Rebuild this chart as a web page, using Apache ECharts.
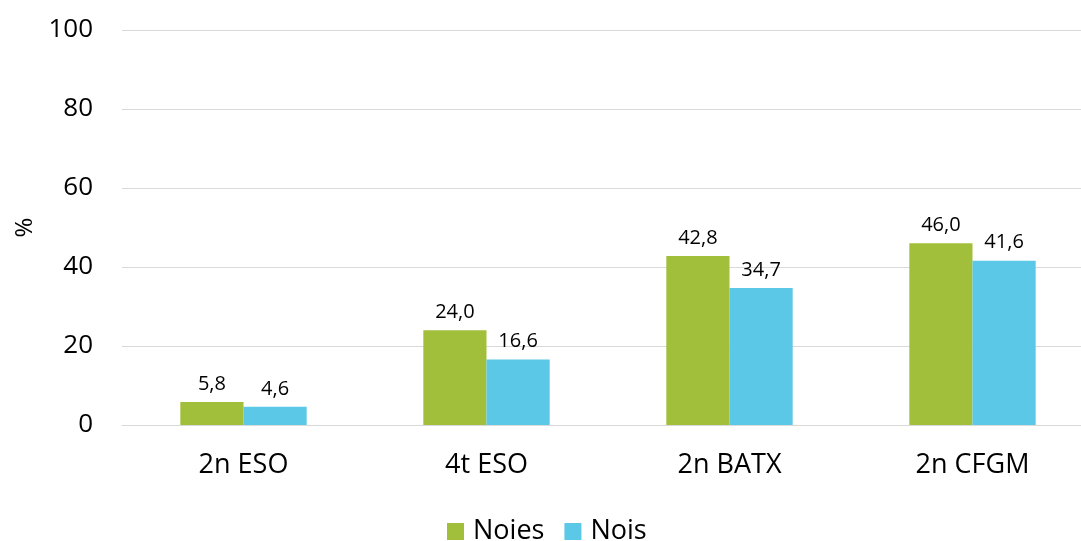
<!DOCTYPE html>
<html>
<head>
<meta charset="utf-8">
<script src="https://cdn.jsdelivr.net/npm/echarts@6/dist/echarts.min.js"></script>
<style>
  html, body { margin: 0; padding: 0; background: #fff; }
  #chart { width: 1081px; height: 541px; }
</style>
</head>
<body>
<div id="chart"></div>
<script>
var categories = ['2n ESO', '4t ESO', '2n BATX', '2n CFGM'];
var noies = [5.8, 24.0, 42.8, 46.0];
var nois = [4.6, 16.6, 34.7, 41.6];

var myChart = echarts.init(document.getElementById('chart'));

var fontFam = '"Open Sans", sans-serif';

function fmt(p) {
    return p.value.toFixed(1).replace('.', ',');
}

var option = {
    animation: false,
    textStyle: { fontFamily: fontFam },
    grid: { left: 122, width: 972, top: 30, bottom: 116, outerBoundsMode: 'none', containLabel: false },
    legend: {
        left: 442,
        bottom: -9,
        icon: 'rect',
        itemWidth: 17,
        itemHeight: 17,
        itemGap: 20,
        textStyle: { fontSize: 27, color: '#000', fontFamily: fontFam, padding: [0, 0, 0, 4] },
        data: ['Noies', 'Nois']
    },
    xAxis: {
        type: 'category',
        data: categories,
        axisTick: { show: false },
        axisLine: { lineStyle: { color: '#d9d9d9' } },
        axisLabel: { fontSize: 27, color: '#000', margin: 27, fontFamily: fontFam }
    },
    yAxis: {
        type: 'value',
        min: 0,
        max: 100,
        interval: 20,
        name: '%',
        nameLocation: 'middle',
        nameGap: 85,
        nameRotate: 90,
        nameTextStyle: { fontSize: 24, color: '#000', fontFamily: fontFam },
        axisLabel: { fontSize: 26, color: '#000', margin: 29, fontFamily: fontFam },
        splitLine: { lineStyle: { color: '#d9d9d9' } }
    },
    series: [
        {
            name: 'Noies',
            type: 'bar',
            data: noies,
            barWidth: '26%',
            barGap: '0%',
            itemStyle: { color: '#a1bf3a' },
            label: { show: true, position: 'top', distance: 8, fontSize: 20, color: '#000', formatter: fmt }
        },
        {
            name: 'Nois',
            type: 'bar',
            data: nois,
            barWidth: '26%',
            itemStyle: { color: '#5bc8e8' },
            label: { show: true, position: 'top', distance: 8, fontSize: 20, color: '#000', formatter: fmt }
        }
    ]
};

myChart.setOption(option);
</script>
</body>
</html>
